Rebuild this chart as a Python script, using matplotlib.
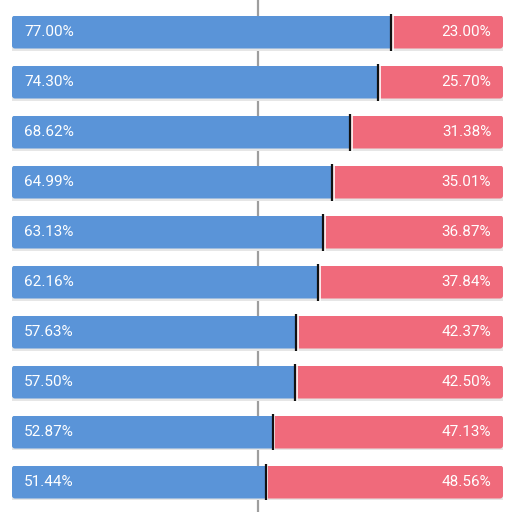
import matplotlib
matplotlib.use("Agg")
import matplotlib.pyplot as plt
from matplotlib.patches import FancyBboxPatch

left_vals = [77.00, 74.30, 68.62, 64.99, 63.13, 62.16, 57.63, 57.50, 52.87, 51.44]
right_vals = [23.00, 25.70, 31.38, 35.01, 36.87, 37.84, 42.37, 42.50, 47.13, 48.56]

blue = '#5a94d8'
red = '#f06a7b'

plt.rcParams['font.family'] = ['Roboto', 'DejaVu Sans']

fig = plt.figure(figsize=(5.12, 5.12), dpi=100)
ax = fig.add_axes([12 / 512, 0, 491 / 512, 1])
ax.set_xlim(0, 100)
ax.set_ylim(9.6, -0.64)
ax.axis('off')

rows = list(range(len(left_vals)))
h = 0.66

ax.axvline(50, color='#9e9e9e', lw=1.6, zorder=0)

# faint shadow under each bar
ax.barh([r + 0.04 for r in rows], [100] * len(rows), height=h, left=0,
        color='#e6e6e6', zorder=1)
blues = ax.barh(rows, left_vals, height=h, left=0, color=blue, zorder=2)
reds = ax.barh(rows, right_vals, height=h, left=left_vals, color=red, zorder=2)

for r, lv, rv, b1, b2 in zip(rows, left_vals, right_vals, blues, reds):
    clip = FancyBboxPatch((0, r - h / 2), 100, h,
                          boxstyle='round,pad=0,rounding_size=0.6',
                          mutation_aspect=0.1, transform=ax.transData,
                          facecolor='none', edgecolor='none')
    ax.add_patch(clip)
    b1.set_clip_path(clip)
    b2.set_clip_path(clip)
    ax.vlines(lv + 0.55, r - 0.37, r + 0.37, color='white', lw=1.2, zorder=3)
    ax.vlines(lv + 0.2, r - 0.37, r + 0.37, color='#111111', lw=1.6, zorder=4)
    ax.text(2.5, r, f'{lv:.2f}%', color='white', fontsize=11,
            va='center', ha='left', zorder=5)
    ax.text(97.6, r, f'{rv:.2f}%', color='white', fontsize=11,
            va='center', ha='right', zorder=5)

fig.savefig('out.png', dpi=100)
